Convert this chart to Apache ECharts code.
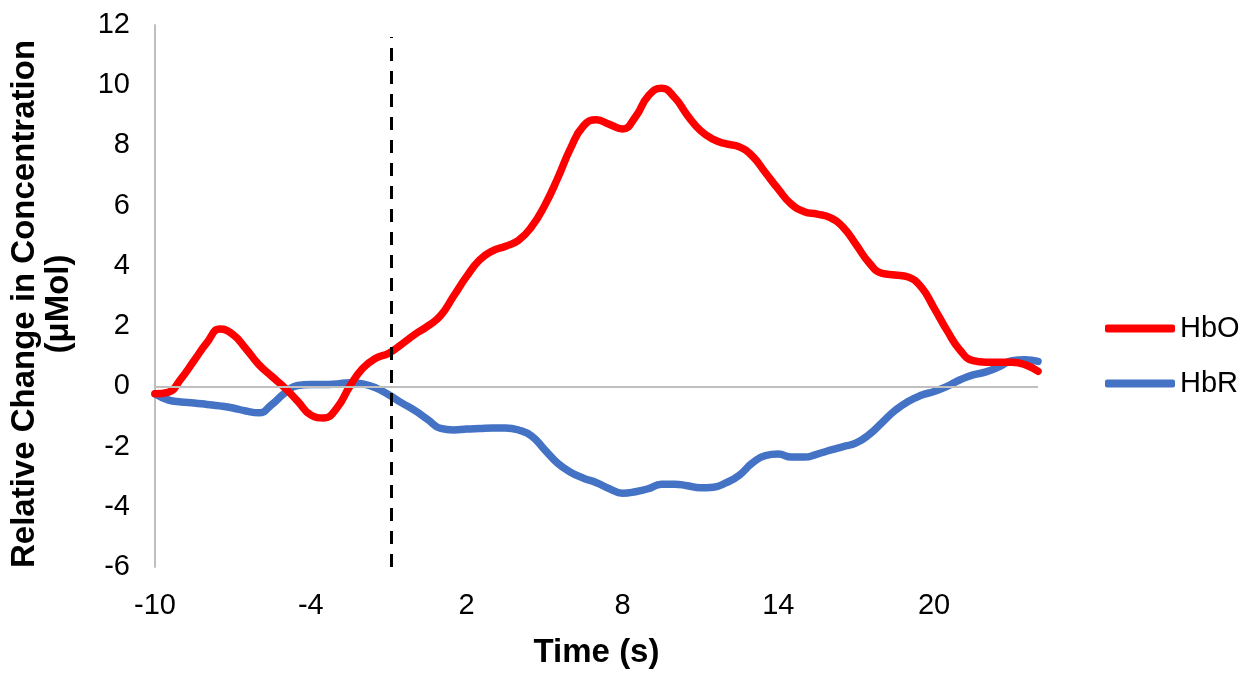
<!DOCTYPE html>
<html>
<head>
<meta charset="utf-8">
<script src="https://cdn.jsdelivr.net/npm/echarts@6/dist/echarts.min.js"></script>
<style>
html,body{margin:0;padding:0;background:#fff;}
#chart{width:1248px;height:674px;}
</style>
</head>
<body>
<div id="chart"></div>
<script>
const timeSec = [-10,-9.5,-9,-8.5,-8,-7.5,-7,-6.5,-6,-5.5,-5,-4.5,-4,-3.5,-3,-2.5,-2,-1.5,-1,-0.5,0,0.5,1,1.5,2,2.5,3,3.5,4,4.5,5,5.5,6,6.5,7,7.5,8,8.5,9,9.5,10,10.5,11,11.5,12,12.5,13,13.5,14,14.5,15,15.5,16,16.5,17,17.5,18,18.5,19,19.5,20,20.5,21,21.5,22,22.5,23,23.5,24];
const hbo = [-0.25,-0.2,0.25,0.85,1.45,1.9,1.72,1.25,0.72,0.33,-0.05,-0.5,-0.95,-1.05,-0.72,0.0,0.6,0.93,1.1,1.4,1.72,2.0,2.35,3.0,3.65,4.2,4.5,4.65,4.85,5.3,6.0,6.9,7.9,8.65,8.85,8.7,8.55,8.95,9.65,9.9,9.6,9.0,8.5,8.2,8.05,7.95,7.65,7.1,6.55,6.05,5.8,5.72,5.6,5.28,4.7,4.1,3.75,3.7,3.63,3.3,2.6,1.85,1.2,0.85,0.8,0.8,0.8,0.72,0.5];
const hbr = [-0.25,-0.45,-0.52,-0.55,-0.6,-0.65,-0.72,-0.82,-0.88,-0.6,-0.22,0.03,0.06,0.06,0.08,0.12,0.08,-0.05,-0.28,-0.55,-0.8,-1.1,-1.4,-1.45,-1.42,-1.4,-1.38,-1.38,-1.45,-1.65,-2.1,-2.55,-2.85,-3.05,-3.2,-3.4,-3.55,-3.5,-3.4,-3.25,-3.25,-3.3,-3.37,-3.35,-3.2,-2.95,-2.55,-2.3,-2.25,-2.35,-2.35,-2.25,-2.12,-2.0,-1.88,-1.6,-1.2,-0.8,-0.5,-0.3,-0.17,0.0,0.22,0.38,0.48,0.65,0.85,0.88,0.83];
const xTicks = [-10,-4,2,8,14,20];
const yTicks = [-6,-4,-2,0,2,4,6,8,10,12];
const seriesNames = ['HbO','HbR'];
const onsetTime = -0.9;
const onsetTop = 11.6;

const FONT = '"Liberation Sans", Arial, sans-serif';
const chart = echarts.init(document.getElementById('chart'), null, {renderer:'canvas'});
const pair = (arr) => timeSec.map((t,i)=>[t,arr[i]]);

chart.setOption({
  animation:false,
  backgroundColor:'#ffffff',
  textStyle:{fontFamily:FONT},
  grid:{left:154,right:210,top:25,bottom:101.5,containLabel:false},
  legend:{
    orient:'vertical',
    left:1100,
    top:309,
    itemWidth:70,
    itemHeight:8,
    itemGap:26,
    itemTextGap:5,
    icon:'roundRect',
    textStyle:{fontSize:29,color:'#000',fontFamily:FONT},
    data:seriesNames
  },
  xAxis:{
    type:'value',
    min:xTicks[0],
    max:timeSec[timeSec.length-1],
    interval:6,
    axisLine:{show:false},
    axisTick:{show:false},
    splitLine:{show:false},
    axisLabel:{fontSize:29,color:'#000',margin:24,showMaxLabel:false,fontFamily:FONT,
      formatter:(v)=> xTicks.includes(v)? String(v):''},
    name:'Time (s)',
    nameLocation:'middle',
    nameGap:69,
    nameTextStyle:{fontSize:33,fontWeight:'bold',color:'#000',fontFamily:FONT}
  },
  yAxis:{
    type:'value',
    min:yTicks[0],
    max:yTicks[yTicks.length-1],
    interval:2,
    axisLine:{show:true,onZero:false,lineStyle:{color:'#BFBFBF',width:2}},
    axisTick:{show:false},
    splitLine:{show:false},
    axisLabel:{fontSize:29,color:'#000',margin:25,fontFamily:FONT},
    name:'Relative Change in Concentration\n(μMol)',
    nameLocation:'middle',
    nameRotate:90,
    nameGap:79,
    nameTextStyle:{fontSize:33,fontWeight:'bold',color:'#000',lineHeight:34,fontFamily:FONT,padding:[0,16,0,0]}
  },
  series:[
    {
      name:'zero',
      type:'line',
      data:[],
      z:1,
      silent:true,
      markLine:{
        silent:true,symbol:'none',animation:false,
        label:{show:false},
        lineStyle:{color:'#BFBFBF',width:2,type:'solid'},
        data:[[{coord:[timeSec[0],0]},{coord:[timeSec[timeSec.length-1],0]}]]
      }
    },
    {
      name:'onset',
      type:'line',
      data:[],
      z:5,
      silent:true,
      markLine:{
        silent:true,symbol:'none',animation:false,
        label:{show:false},
        lineStyle:{color:'#000',width:3,type:[13,10]},
        data:[[{coord:[onsetTime,yTicks[0]]},{coord:[onsetTime,onsetTop]}]]
      }
    },
    {
      name:seriesNames[1],
      type:'line',
      data:pair(hbr),
      smooth:0.5,
      symbol:'none',
      z:3,
      itemStyle:{color:'#4472C4'},
      lineStyle:{color:'#4472C4',width:7.5,cap:'round',join:'round'}
    },
    {
      name:seriesNames[0],
      type:'line',
      data:pair(hbo),
      smooth:0.5,
      symbol:'none',
      z:4,
      itemStyle:{color:'#FF0000'},
      lineStyle:{color:'#FF0000',width:7.5,cap:'round',join:'round'}
    }
  ]
});
</script>
</body>
</html>
